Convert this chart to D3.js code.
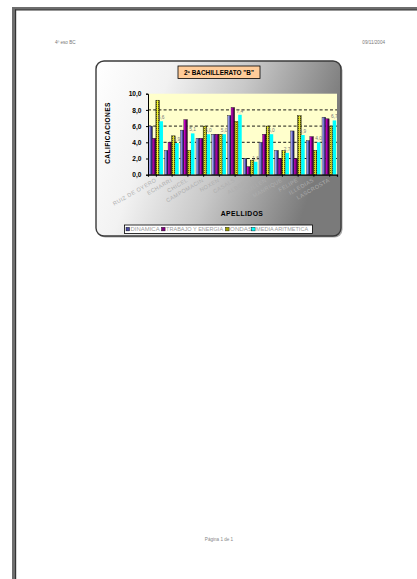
<!DOCTYPE html>
<html>
<head>
<meta charset="utf-8">
<script src="https://cdn.jsdelivr.net/npm/d3@7"></script>
<style>
html,body{margin:0;padding:0;background:#fff;}
svg{display:block;font-family:"Liberation Sans",Arial,sans-serif;}
</style>
</head>
<body>
<svg id="page" width="417" height="579"></svg>
<script>
const categories = ["RUIZ DE OYERO","ECHARRI","CHICEL","CAMPOMACIN","NOXEN","CASALS","ALBERTI","CULLEN","MANRIQUE","FELIPE","ILLEDIAS","LASCROSTA"];
const seriesNames = ["DINAMICA","TRABAJO Y ENERGIA","ONDAS","MEDIA ARITMETICA"];
const dinamica = [6.0,3.0,5.5,4.5,5.0,7.3,2.0,4.0,3.0,5.4,4.2,7.1];
const trabajo  = [4.5,4.0,6.8,4.5,5.0,8.3,1.0,5.0,2.0,2.0,4.7,6.9];
const ondas    = [9.2,4.8,3.0,6.0,5.0,6.6,1.8,6.0,3.0,7.3,3.0,6.0];
const media    = [6.6,3.9,5.1,5.0,5.0,7.4,1.6,5.0,2.7,4.9,4.0,6.7];
const yTicks   = [0,2,4,6,8,10];
const gridTicks = [2,4,6,8];
const title = "2º  BACHILLERATO \"B\"";
const yTitle = "CALIFICACIONES";
const xTitle = "APELLIDOS";
const headerLeft = "4º eso BC";
const headerRight = "09/11/2004";
const footer = "Página 1 de 1";

const svg = d3.select("#page");
const defs = svg.append("defs");

// gradients / patterns
const bg = defs.append("linearGradient").attr("id","bgGrad").attr("x1",0).attr("y1",0).attr("x2",1).attr("y2",0.25);
[[0,"#ffffff"],[0.3,"#f2f2f2"],[0.6,"#c9c9c9"],[1,"#7a7a7a"]].forEach(s=>bg.append("stop").attr("offset",s[0]).attr("stop-color",s[1]));
const g1 = defs.append("linearGradient").attr("id","blueGrad");
[[0,"#d0d0ff"],[0.35,"#8484e0"],[1,"#000040"]].forEach(s=>g1.append("stop").attr("offset",s[0]).attr("stop-color",s[1]));
const g2 = defs.append("linearGradient").attr("id","purpGrad");
[[0,"#ff00ff"],[0.35,"#a000a0"],[1,"#1a001a"]].forEach(s=>g2.append("stop").attr("offset",s[0]).attr("stop-color",s[1]));
const g3 = defs.append("linearGradient").attr("id","oliveGrad");
[[0,"#5c5c00"],[0.45,"#ffff30"],[1,"#5c5c00"]].forEach(s=>g3.append("stop").attr("offset",s[0]).attr("stop-color",s[1]));
const pat = defs.append("pattern").attr("id","dotPat").attr("width",2).attr("height",2).attr("patternUnits","userSpaceOnUse");
pat.append("rect").attr("width",1).attr("height",1).attr("fill","#000").attr("opacity",0.55);
const fills = ["url(#blueGrad)","url(#purpGrad)","url(#oliveGrad)","#00ffff"];
const legendFills = ["#4a4aa0","#800080","#a0a000","#00ffff"];

// page
svg.append("rect").attr("width",417).attr("height",579).attr("fill","#fff");
svg.append("rect").attr("x",12).attr("y",7).attr("width",4).attr("height",572).attr("fill","#6e6e6e");
svg.append("rect").attr("x",12).attr("y",7).attr("width",405).attr("height",3).attr("fill","#6e6e6e");
svg.append("rect").attr("x",15).attr("y",9.5).attr("width",1.2).attr("height",570).attr("fill","#333");
svg.append("rect").attr("x",15).attr("y",9.5).attr("width",402).attr("height",1).attr("fill","#333");
svg.append("text").attr("x",55).attr("y",44).attr("font-size",4.6).attr("fill","#777").text(headerLeft);
svg.append("text").attr("x",385).attr("y",44).attr("text-anchor","end").attr("font-size",4.6).attr("fill","#777").text(headerRight);
svg.append("text").attr("x",219).attr("y",541).attr("text-anchor","middle").attr("font-size",4.6).attr("fill","#888").text(footer);

// chart box
svg.append("rect").attr("x",97.5).attr("y",62.5).attr("width",245).attr("height",175).attr("rx",8).attr("fill","#555").attr("opacity",0.5);
svg.append("rect").attr("x",96).attr("y",61).attr("width",245).attr("height",175).attr("rx",8)
  .attr("fill","url(#bgGrad)").attr("stroke","#3a3a3a").attr("stroke-width",1.4);

// scales
const plot = {left:148, right:337, top:93.7, bottom:174.7};
const y = d3.scaleLinear().domain([0,10]).range([plot.bottom, plot.top]);
const x0 = d3.scaleBand().domain(categories).range([plot.left, plot.right]).paddingInner(0.1).paddingOuter(0.05);
const x1 = d3.scaleBand().domain(seriesNames).range([0, x0.bandwidth()]);
const xc = d3.scalePoint().domain(categories).range([plot.left, plot.right]).padding(0.5);

svg.append("rect").attr("x",plot.left).attr("y",plot.top).attr("width",plot.right-plot.left).attr("height",plot.bottom-plot.top).attr("fill","#ffffcc");

svg.append("g").selectAll("line").data(gridTicks).join("line")
  .attr("x1",plot.left).attr("x2",plot.right).attr("y1",d=>y(d)).attr("y2",d=>y(d))
  .attr("stroke","#000").attr("stroke-width",0.9).attr("stroke-dasharray","3,2.2");

// bars
const allSeries = [dinamica, trabajo, ondas, media];
const data = [];
categories.forEach((c,i)=>allSeries.forEach((s,j)=>data.push({c, s:seriesNames[j], j, v:s[i]})));
svg.append("g").selectAll("rect").data(data).join("rect")
  .attr("x",d=>x0(d.c)+x1(d.s)).attr("width",x1.bandwidth())
  .attr("y",d=>y(d.v)).attr("height",d=>y(0)-y(d.v))
  .attr("fill",d=>fills[d.j])
  .attr("stroke",d=>d.j===3?"none":"#111").attr("stroke-width",0.4);
// dotted texture on ONDAS
svg.append("g").selectAll("rect").data(data.filter(d=>d.j===2)).join("rect")
  .attr("x",d=>x0(d.c)+x1(d.s)).attr("width",x1.bandwidth())
  .attr("y",d=>y(d.v)).attr("height",d=>y(0)-y(d.v))
  .attr("fill","url(#dotPat)");

// data labels (media)
svg.append("g").selectAll("text").data(categories).join("text")
  .attr("x",(c)=>x0(c)+x1(seriesNames[3])+x1.bandwidth()/2)
  .attr("y",(c,i)=>y(media[i])-2)
  .attr("text-anchor","middle").attr("font-size",4.8).attr("fill","#777")
  .text((c,i)=>media[i].toFixed(1).replace(".",","));

// axes
const yAxis = d3.axisLeft(y).tickValues(yTicks).tickSize(2).tickFormat(d=>d.toFixed(1).replace(".",","));
const gy = svg.append("g").attr("transform",`translate(${plot.left},0)`).call(yAxis);
gy.select(".domain").attr("stroke","#000").attr("stroke-width",1);
gy.selectAll("text").attr("font-size",6.6).attr("font-weight","bold").attr("fill","#000").attr("dx",-1.5);
gy.selectAll("line").attr("stroke","#000");

const xAxis = d3.axisBottom(xc).tickSize(2).tickFormat("");
const gx = svg.append("g").attr("transform",`translate(0,${plot.bottom})`).call(xAxis);
gx.select(".domain").attr("stroke","#000").attr("stroke-width",1.2);
gx.selectAll("line").attr("stroke","#000");

svg.append("g").selectAll("text").data(categories).join("text")
  .attr("transform",c=>`translate(${xc(c)+1},${plot.bottom+6.5}) rotate(-30)`)
  .attr("text-anchor","end").attr("font-size",5.5)
  .attr("fill","#aeaeae").attr("letter-spacing",0.45).text(c=>c);

// titles
svg.append("text").attr("transform",`translate(110,133) rotate(-90)`).attr("text-anchor","middle")
  .attr("font-size",6.6).attr("font-weight","bold").attr("fill","#000").attr("letter-spacing",0.4).text(yTitle);
svg.append("text").attr("x",242).attr("y",216).attr("text-anchor","middle")
  .attr("font-size",6.8).attr("font-weight","bold").attr("fill","#000").attr("letter-spacing",0.4).text(xTitle);

svg.append("rect").attr("x",178).attr("y",66).attr("width",82).attr("height",12.5).attr("fill","#ffcc99").attr("stroke","#000").attr("stroke-width",0.8);
svg.append("text").attr("x",219).attr("y",74.6).attr("text-anchor","middle")
  .attr("font-size",6.4).attr("font-weight","bold").attr("fill","#000").text(title);

// legend
const legX = [126, 161.5, 225.5, 251.5];
const legW = [29, 57, 22, 52];
const leg = svg.append("g");
leg.append("rect").attr("x",124.5).attr("y",225).attr("width",188).attr("height",8.5).attr("fill","#fff").attr("stroke","#000").attr("stroke-width",0.8);
seriesNames.forEach((n,j)=>{
  leg.append("rect").attr("x",legX[j]).attr("y",227.3).attr("width",3.6).attr("height",3.6).attr("fill",legendFills[j]).attr("stroke","#000").attr("stroke-width",0.4);
  leg.append("text").attr("x",legX[j]+4.6).attr("y",231.4).attr("font-size",4.6).attr("fill","#9a9a9a")
    .attr("textLength",legW[j]).attr("lengthAdjust","spacingAndGlyphs").text(n);
});
</script>
</body>
</html>
